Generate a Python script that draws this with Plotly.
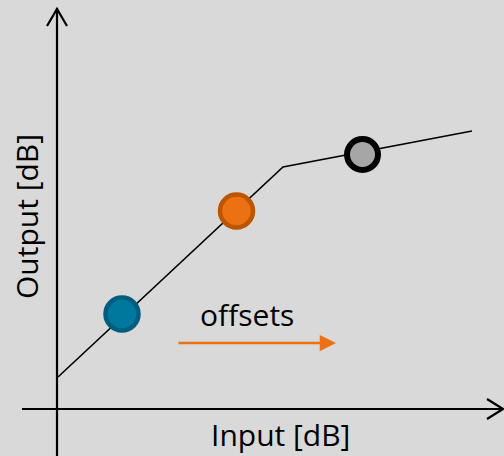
import plotly.graph_objects as go

# Transfer curve (input dB -> output dB), arbitrary units
curve_in = [0, 225, 414]
curve_out = [31, 241, 277]

# Operating points
point_in = [64, 178.5, 304.5]
point_out = [94, 197, 253.5]
point_fill = ["#00789e", "#ec7113", "#a6a6a6"]
point_edge = ["#005d80", "#bd5500", "#000000"]
point_edge_w = [4.5, 4.5, 6]
point_size = [33, 33, 31]

x_label = "Input [dB]"
y_label = "Output [dB]"
offset_label = "offsets"
offset_from = 119
offset_to = 278
offset_level = 65

bg = "#d9d9d9"
font = "Open Sans, Noto Sans, sans-serif"

fig = go.Figure()

fig.add_trace(go.Scatter(x=curve_in, y=curve_out, mode="lines",
                         line=dict(color="black", width=1.6),
                         hoverinfo="skip", showlegend=False))

fig.add_trace(go.Scatter(x=point_in, y=point_out, mode="markers",
                         marker=dict(size=point_size, color=point_fill, opacity=1,
                                     line=dict(color=point_edge, width=point_edge_w)),
                         showlegend=False))

shapes = []
# y axis with open arrowhead
shapes.append(dict(type="line", xref="x", yref="y", x0=-1, y0=-60, x1=-1, y1=400,
                   line=dict(color="black", width=2.2)))
shapes.append(dict(type="path", xref="x", yref="y",
                   path="M -11,382 L -1,399 L 9,382",
                   line=dict(color="black", width=2.2)))
# x axis with open arrowhead
shapes.append(dict(type="line", xref="x", yref="y", x0=-36, y0=-1, x1=445, y1=-1,
                   line=dict(color="black", width=2.2)))
shapes.append(dict(type="path", xref="x", yref="y",
                   path="M 429,9 L 445,-1 L 429,-11",
                   line=dict(color="black", width=2.2)))
fig.update_layout(shapes=shapes)

annotations = [
    dict(x=offset_to, y=offset_level, ax=offset_from, ay=offset_level,
         xref="x", yref="y", axref="x", ayref="y", text="",
         showarrow=True, arrowhead=2, arrowsize=1.3, arrowwidth=2.5,
         arrowcolor="#ec7113"),
    dict(x=189, y=94, xref="x", yref="y", text=offset_label, showarrow=False,
         font=dict(family=font, size=30, color="black")),
    dict(x=222, y=-47.5, xref="x", yref="y", yanchor="bottom", borderpad=0,
         text=x_label, showarrow=False,
         font=dict(family=font, size=30, color="black")),
    dict(x=-32, y=191, xref="x", yref="y", text=y_label, showarrow=False,
         textangle=-90, font=dict(family=font, size=30, color="black")),
]
fig.update_layout(annotations=annotations)

fig.update_xaxes(range=[-58, 446], visible=False, fixedrange=True)
fig.update_yaxes(range=[-48, 408], visible=False, fixedrange=True)
fig.update_layout(width=504, height=456, margin=dict(l=0, r=0, t=0, b=0),
                  paper_bgcolor=bg, plot_bgcolor=bg)

fig.write_html("out.html", config={"displayModeBar": False},
               post_script="document.body.style.margin='0';document.body.style.padding='0';")
